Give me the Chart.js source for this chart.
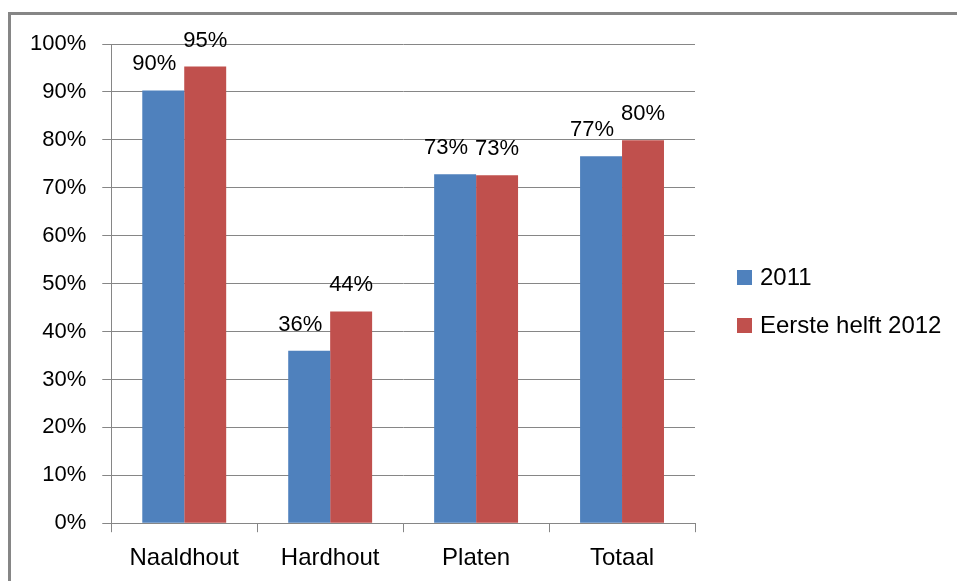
<!DOCTYPE html>
<html>
<head>
<meta charset="utf-8">
<script src="https://cdn.jsdelivr.net/npm/chart.js@4/dist/chart.umd.min.js"></script>
<style>
  html, body { margin: 0; padding: 0; background: #fff; overflow: hidden; }
  #frame {
    position: absolute; left: 8px; top: 12px;
    width: 1000px; height: 700px;
    border: 3px solid #868686;
  }
  #wrap { position: absolute; left: 0; top: 0; width: 957px; height: 581px; }
</style>
</head>
<body>
<div id="frame"></div>
<div id="wrap"><canvas id="chart"></canvas></div>
<script>
// ----------------------------
// DATA
// ----------------------------
const categories = ["Naaldhout", "Hardhout", "Platen", "Totaal"];
const seriesNames = ["2011", "Eerste helft 2012"];
const values2011 = [90.3, 36.0, 72.8, 76.6];
const values2012 = [95.3, 44.2, 72.6, 79.9];
const yTicks = [0, 10, 20, 30, 40, 50, 60, 70, 80, 90, 100];

const FONT = "'Liberation Sans', Arial, sans-serif";
const GRID = "#868686";

// ----------------------------
// DATA LABELS (value above each bar)
// ----------------------------
const barLabels = {
  id: "barLabels",
  afterDatasetsDraw(chart) {
    const ctx = chart.ctx;
    ctx.save();
    ctx.font = "22px " + FONT;
    ctx.fillStyle = "#000";
    ctx.textAlign = "center";
    ctx.textBaseline = "alphabetic";
    chart.data.datasets.forEach((ds, i) => {
      const shift = i === 0 ? -9 : 0; // Excel nudges the left label a bit
      chart.getDatasetMeta(i).data.forEach((bar, j) => {
        ctx.fillText(Math.round(ds.data[j]) + "%", bar.x + shift, bar.y - 20);
      });
    });
    ctx.restore();
  }
};

// ----------------------------
// LEGEND (right of the plot, Excel style)
// ----------------------------
const sideLegend = {
  id: "sideLegend",
  afterDraw(chart) {
    const ctx = chart.ctx;
    const area = chart.chartArea;
    const x = area.right + 42;
    let y = area.top + 226;
    ctx.save();
    ctx.font = "24px " + FONT;
    ctx.textAlign = "left";
    ctx.textBaseline = "middle";
    chart.data.datasets.forEach(ds => {
      ctx.fillStyle = ds.backgroundColor;
      ctx.fillRect(x, y, 15, 15);
      ctx.fillStyle = "#000";
      ctx.fillText(ds.label, x + 23, y + 8);
      y += 48;
    });
    ctx.restore();
  }
};

// ----------------------------
// CHART
// ----------------------------
const ctx = document.getElementById("chart").getContext("2d");

new Chart(ctx, {
  type: "bar",
  data: {
    labels: categories,
    datasets: [
      {
        label: seriesNames[0],
        data: values2011,
        backgroundColor: "#4F81BD"
      },
      {
        label: seriesNames[1],
        data: values2012,
        backgroundColor: "#C0504D"
      }
    ]
  },
  options: {
    responsive: true,
    maintainAspectRatio: false,
    animation: false,
    layout: {
      padding: { top: 44, left: 14, bottom: -4, right: 262 }
    },
    datasets: {
      bar: { barPercentage: 1, categoryPercentage: 0.575 }
    },
    plugins: {
      tooltip: { enabled: false },
      legend: { display: false }
    },
    scales: {
      x: {
        grid: {
          drawOnChartArea: false,
          drawTicks: true,
          tickLength: 9,
          color: GRID
        },
        border: { color: GRID },
        ticks: {
          color: "#000",
          padding: 12,
          font: { family: FONT, size: 24 }
        }
      },
      y: {
        min: 0,
        max: 100,
        afterBuildTicks: axis => {
          axis.ticks = yTicks.map(v => ({ value: v }));
        },
        grid: { color: GRID, tickLength: 9 },
        border: { color: GRID },
        ticks: {
          color: "#000",
          padding: 16,
          font: { family: FONT, size: 22 },
          callback: v => v + "%"
        }
      }
    }
  },
  plugins: [barLabels, sideLegend]
});
</script>
</body>
</html>
